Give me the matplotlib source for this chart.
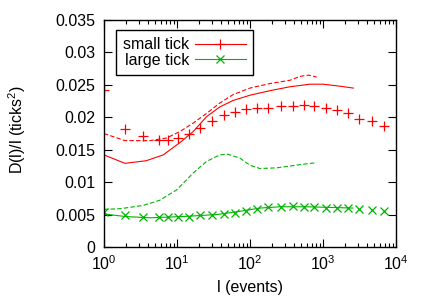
import matplotlib
matplotlib.use("Agg")
import matplotlib.pyplot as plt
from matplotlib.lines import Line2D
from matplotlib.ticker import FuncFormatter, LogLocator, MultipleLocator

plt.rcParams['font.family'] = ['Liberation Sans', 'DejaVu Sans']
plt.rcParams['mathtext.fontset'] = 'custom'
plt.rcParams['mathtext.rm'] = 'Liberation Sans'

# small tick: points
small_x = [1, 1.94, 3.42, 5.6, 7.5, 10.3, 14.6, 20.6, 30, 44, 63, 89, 125, 178, 263,
           386, 548, 757, 1100, 1545, 2180, 3100, 4650, 6900]
small_y = [0.0242, 0.0182, 0.0171, 0.0165, 0.0165, 0.0168, 0.0174, 0.0183, 0.0194,
           0.0203, 0.0208, 0.0212, 0.0215, 0.0215, 0.0217, 0.0218, 0.0219, 0.0217,
           0.0215, 0.0211, 0.0206, 0.0198, 0.0195, 0.0187]
# small tick: solid line
small_line_x = [1, 1.94, 3.8, 6.5, 11, 16.7, 25.5, 38.7, 59, 100, 188, 352, 660,
                1000, 1700, 2600]
small_line_y = [0.0142, 0.0129, 0.0133, 0.0142, 0.0161, 0.0178, 0.0201, 0.0216,
                0.0226, 0.0234, 0.0241, 0.0247, 0.0251, 0.0251, 0.0248, 0.0245]
# small tick: dashed line
small_dash_x = [1, 1.94, 4.27, 7.2, 11, 16.7, 25.5, 38.7, 59, 100, 188, 352, 484,
                630, 820]
small_dash_y = [0.0175, 0.0164, 0.0164, 0.0168, 0.0178, 0.0191, 0.0206, 0.0222,
                0.0235, 0.0245, 0.0252, 0.0257, 0.0263, 0.0265, 0.0262]

# large tick: points
large_x = small_x
large_y = [0.0054, 0.0049, 0.0047, 0.0046, 0.0046, 0.0047, 0.0047, 0.0049, 0.0050,
           0.0051, 0.0053, 0.0055, 0.0058, 0.0061, 0.0062, 0.0063, 0.0062, 0.0062,
           0.0060, 0.0060, 0.0060, 0.0059, 0.0057, 0.0056]
# large tick: solid line
large_line_x = [1, 1.94, 4.27, 12.2, 35, 73, 137, 257, 600, 1250, 2570]
large_line_y = [0.0051, 0.0047, 0.0045, 0.0047, 0.0050, 0.0055, 0.0060, 0.0062,
                0.0062, 0.0061, 0.0060]
# large tick: dashed line
large_dash_x = [1, 1.66, 3.45, 5.8, 9.9, 16.7, 25.5, 38.7, 50, 72.8, 100, 137, 232,
                484, 820]
large_dash_y = [0.0058, 0.0059, 0.0064, 0.0072, 0.0088, 0.0114, 0.0132, 0.0142,
                0.0143, 0.0137, 0.0126, 0.0121, 0.0122, 0.0127, 0.0130]

red = '#ff0000'
green = '#00b400'

fig = plt.figure(figsize=(4.24, 2.97), dpi=100)
ax = fig.add_axes([0.245, 0.1684, 0.689, 0.7643])

ax.plot(small_line_x, small_line_y, '-', color=red, lw=0.8)
ax.plot(small_dash_x, small_dash_y, '--', color=red, lw=0.8, dashes=(4, 2))
ax.plot(small_x, small_y, '+', color=red, ms=6.5, mew=0.9, ls='none')
ax.plot(large_line_x, large_line_y, '-', color=green, lw=0.8)
ax.plot(large_dash_x, large_dash_y, '--', color=green, lw=0.8, dashes=(4, 2))
ax.plot(large_x, large_y, 'x', color=green, ms=5.5, mew=0.9, ls='none')

ax.set_xscale('log')
ax.set_xlim(1, 1e4)
ax.set_ylim(0, 0.035)
ax.yaxis.set_major_locator(MultipleLocator(0.005))
ax.yaxis.set_major_formatter(FuncFormatter(lambda v, p: '%g' % round(v, 4)))
ax.xaxis.set_major_locator(LogLocator(base=10, numticks=10))
ax.xaxis.set_minor_locator(LogLocator(base=10, subs=range(2, 10), numticks=20))

ax.tick_params(which='both', direction='in', top=True, right=True, labelsize=11.5,
               color='black', width=0.8)
ax.tick_params(which='major', length=6)
ax.tick_params(axis='x', which='major', pad=5)
ax.tick_params(axis='y', which='major', pad=6)
ax.tick_params(which='minor', length=3)
for s in ax.spines.values():
    s.set_linewidth(1.0)

ax.set_xlabel('l (events)', fontsize=11.5)
ax.set_ylabel('D(l)/l (ticks$^2$)', fontsize=11.5)
ax.xaxis.set_label_coords(0.5, -0.145)
ax.yaxis.set_label_coords(-0.26, 0.515)

handles = [Line2D([], [], color=red, lw=0.8, marker='+', ms=6.5, mew=0.9),
           Line2D([], [], color=green, lw=0.8, marker='x', ms=5.5, mew=0.9)]
leg = ax.legend(handles, ['small tick', 'large tick'], loc='upper left',
                bbox_to_anchor=(0.03, 0.97), markerfirst=False, fancybox=False,
                edgecolor='black', framealpha=1, fontsize=11.5, handlelength=3.2,
                borderpad=0.45, labelspacing=0.05, handletextpad=0.35, borderaxespad=0.2)
leg.get_frame().set_linewidth(1.0)

fig.savefig('out.png', dpi=100)
